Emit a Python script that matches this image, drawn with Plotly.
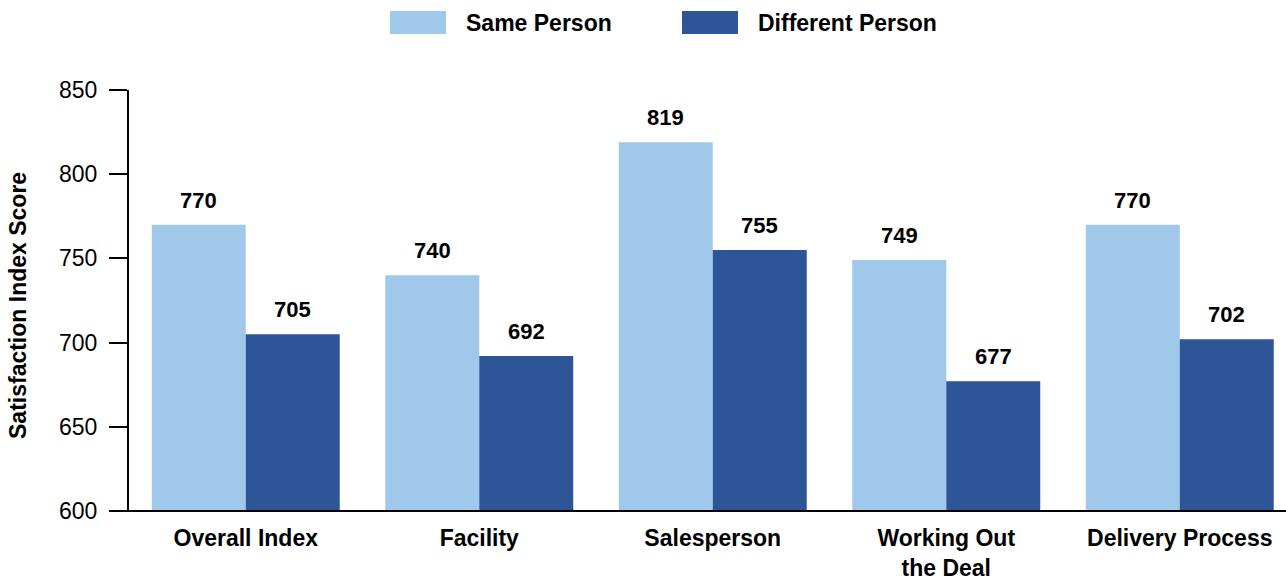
import plotly.graph_objects as go

categories = ["Overall Index", "Facility", "Salesperson", "Working Out<br>the Deal", "Delivery Process"]
same_person = [770, 740, 819, 749, 770]
different_person = [705, 692, 755, 677, 702]
series_names = ["Same Person", "Different Person"]
colors = ["#9FC8EA", "#2D5597"]
y_ticks = [600, 650, 700, 750, 800, 850]

FONT = "Arial, Liberation Sans, Helvetica, sans-serif"

fig = go.Figure()
for name, vals, col in zip(series_names, [same_person, different_person], colors):
    fig.add_trace(go.Bar(x=categories, y=vals, name=name, marker_color=col,
                         marker_line_width=0, showlegend=False))

# value labels above bars
for i, vals in enumerate([same_person, different_person]):
    shift = -47 if i == 0 else 47
    for c, v in zip(categories, vals):
        fig.add_annotation(x=c, y=v, text=f"<b>{v}</b>", showarrow=False,
                           xshift=shift, yanchor="bottom", yshift=10,
                           font=dict(size=22, color="black", family=FONT))

# custom legend
lx = [(390, 446), (682, 738)]
for (x0, x1), name, col in zip(lx, series_names, colors):
    fig.add_shape(type="rect", xref="paper", yref="paper",
                  x0=(x0 - 129) / 1157, x1=(x1 - 129) / 1157,
                  y0=(511 - 34) / 421, y1=(511 - 11) / 421,
                  fillcolor=col, line_width=0)
    fig.add_annotation(xref="paper", yref="paper", x=(x1 + 18 - 129) / 1157,
                       y=(511 - 22.5) / 421, xanchor="left", yanchor="middle",
                       text=f"<b>{name}</b>", showarrow=False,
                       font=dict(size=23, color="black", family=FONT))

# y-axis title
fig.add_annotation(xref="paper", yref="paper", x=(18 - 129) / 1157, y=(511 - 306) / 421,
                   text="<b>Satisfaction Index Score</b>", textangle=-90, showarrow=False,
                   xanchor="center", yanchor="middle",
                   font=dict(size=23, color="black", family=FONT))

# x axis line extending past y axis
fig.add_shape(type="line", xref="paper", yref="paper", x0=(110 - 129) / 1157, x1=1,
              y0=0, y1=0, line=dict(color="black", width=2))

fig.update_layout(
    width=1286, height=577,
    barmode="group", bargap=0.195, bargroupgap=0,
    plot_bgcolor="white", paper_bgcolor="white",
    margin=dict(l=129, r=0, t=90, b=66),
    font=dict(family=FONT, size=22, color="black"),
    xaxis=dict(range=[-0.5, 4.455], showline=False, ticks="", showgrid=False,
               automargin=False,
               tickfont=dict(size=23, family=FONT), ticklabelstandoff=11,
               tickvals=categories, ticktext=[f"<b>{c}</b>" for c in categories]),
    yaxis=dict(range=[600, 850], tickvals=y_ticks, showline=True, linecolor="black",
               linewidth=2, ticks="outside", ticklen=18, tickwidth=2, tickcolor="black",
               showgrid=False, zeroline=False, automargin=False,
               tickfont=dict(size=23, family=FONT), ticklabelstandoff=7),
)

fig.write_html("out.html", config={"displayModeBar": False},
               post_script="document.body.style.margin='0px';")
